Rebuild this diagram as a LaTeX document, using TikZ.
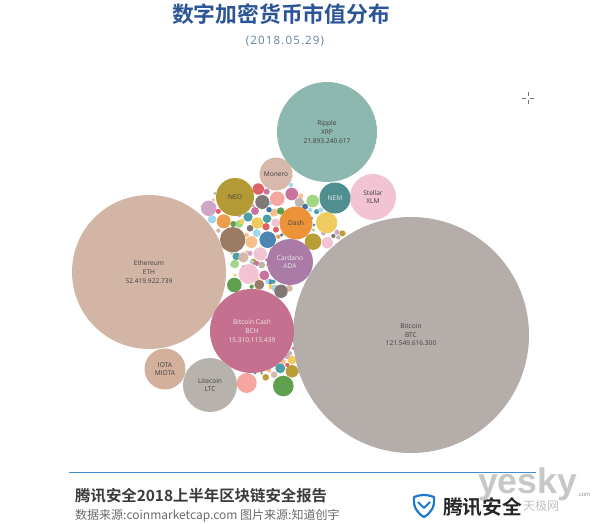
\documentclass[tikz,border=0pt]{standalone}
\usepackage{fontspec}
\setmainfont{Open Sans}
\newfontfamily\cjk{Noto Sans CJK SC}
\newfontfamily\cjkb{Noto Sans CJK SC Bold}
\newfontfamily\datef[LetterSpace=10]{Open Sans}
\newfontfamily\wm{Liberation Sans}
\definecolor{ctitle}{HTML}{2B5596}
\definecolor{cdate}{HTML}{5F7FA6}
\definecolor{cline}{HTML}{3F8FD8}
\definecolor{cfoot}{HTML}{3A3A3A}
\definecolor{csrc}{HTML}{6A6A6A}
\definecolor{cxrp}{HTML}{8DB8B0}
\definecolor{ceth}{HTML}{D3B5A5}
\definecolor{cbtc}{HTML}{B5ADA9}
\definecolor{cbch}{HTML}{C6708F}
\definecolor{cltc}{HTML}{B8B2AC}
\definecolor{ciota}{HTML}{D2B09C}
\definecolor{cxlm}{HTML}{F2C3D2}
\definecolor{cnem}{HTML}{4F8F8F}
\definecolor{cxmr}{HTML}{D6B9AB}
\definecolor{cneo}{HTML}{B39A34}
\definecolor{cdash}{HTML}{EC9339}
\definecolor{cada}{HTML}{A97BA6}
\definecolor{cshield}{HTML}{1E78D2}
\definecolor{Ared}{HTML}{DD6266}
\definecolor{Asal}{HTML}{F5A6A0}
\definecolor{Apk}{HTML}{C9729B}
\definecolor{Alp}{HTML}{F2C3D2}
\definecolor{Agd}{HTML}{7F7875}
\definecolor{Agl}{HTML}{BDB5B0}
\definecolor{Agr}{HTML}{A0D684}
\definecolor{Agn}{HTML}{5FA04E}
\definecolor{Aye}{HTML}{F0CB5E}
\definecolor{Aol}{HTML}{B79E35}
\definecolor{Ali}{HTML}{CFA6C8}
\definecolor{Ask}{HTML}{A6D6EA}
\definecolor{Aor}{HTML}{EE9D4C}
\definecolor{Abr}{HTML}{9A7B66}
\definecolor{Apc}{HTML}{F6C08E}
\definecolor{Abl}{HTML}{4E86B3}
\definecolor{Ate}{HTML}{4E9FA6}
\definecolor{Ata}{HTML}{D6B9AB}
\definecolor{Anv}{HTML}{3F74A8}
\tikzset{
  x=1pt,y=-1pt,
  bub/.style={circle,inner sep=0pt,outer sep=0pt,align=center,font=\fontsize{6.6}{8.6}\selectfont,text=black!75},
  lit/.style={bub,text=white!92!black},
  dot/.style={circle,inner sep=0pt,outer sep=0pt,draw=none},
  ttl/.style={inner sep=0pt,font=\cjkb\fontsize{21.8}{22}\selectfont,text=ctitle},
  tick/.style={draw=black!55,line width=.7pt},
}
\begin{document}
\begin{tikzpicture}
\useasboundingbox (0,0) rectangle (600,524);
\node[ttl] (title) at (281,14) {数字加密货币市值分布};
\node[inner sep=0pt,text=cdate,font=\datef\fontsize{11.5}{13}\selectfont] (date) at (285,41) {(2018.05.29)};
% tiny bubbles
\foreach \a/\b/\r/\c [count=\i] in {
75/130/4/Agl,70/150/4/Apc,85/184/6/Ared,38/170/5/Apc,303/105/5/Ask,332/138/6/Apc,345/170/7/Anv,320/175/4/Apc,360/180/5/Ask,380/185/6/Ate,392/180/6/Ask,365/205/4/Apk,372/225/4/Ate,370/240/4/Agr,352/258/4/Aye,400/250/5/Ali,430/258/5/Agd,441/247/6/Ali,457/250/7/Aol,445/262/5/Agl,465/250/3/Aor,130/222/7/Agn,148/222/9/Agr,85/242/5/Ata,100/250/5/Ask,165/180/5/Ata,155/215/6/Aye,170/255/5/Apc,265/260/5/Aor,275/255/4/Anv,258/239/7/Ared,280/250/4/Aye,139/319/9/Ate,160/322/12/Ata,135/375/4/Aye,190/335/7/Aol,200/340/6/Apk,215/345/8/Agl,180/310/6/Ali,170/305/4/Apc,240/395/6/Abl,250/395/5/Ate,243/410/6/Aye,232/395/5/Ask,255/415/8/Ask,298/415/8/Ata,185/410/5/Agn,200/385/5/Apc,185/335/5/Ask,230/330/4/Apk,232/345/4/Aye,160/390/4/Agr,230/125/7/Apk,148/195/5/Ali,175/195/4/Aor,240/160/5/Ask,318/255/4/Ate,245/300/5/Apc,100/290/4/Ali,300/200/4/Aor,215/175/4/Apc,190/168/4/Ali,310/140/4/Aye,125/345/4/Ali,125/310/3/Agl,160/350/4/Ate}
  \node[dot,fill=\c,minimum size=2.6*\r/3*1pt] (t\i) at ({190+\a/3},{150+\b/3}) {};
\foreach \a/\b/\r/\c [count=\i] in {
262/200/6/Ali,250/215/6/Apc,280/155/3/Ali,270/190/5/Agl,235/212/4/Ate,185/250/3/Agn,165/250/3/Ate,207/242/5/Apc,298/245/4/Aor,228/225/5/Ask,262/225/5/Ared,280/175/4/Apk}
  \node[dot,fill=\c,minimum size=2.6*\r/3*1pt] (u\i) at ({200+\a/3},{290+\b/3}) {};
% small bubbles
\foreach \a/\b/\r/\c [count=\i] in {
258.3/189/5.7/Ared,277.3/198.7/7.3/Asal,291.7/194/6.3/Apk,262.3/202/7/Agd,299.3/202.3/4.7/Agl,312.7/201/6.3/Agr,326.7/222.7/10.7/Aye,313/241.7/8.3/Aol,327.3/242.7/5.7/Alp,208.7/208.3/7.7/Ali,212/219.3/4.3/Ask,223.7/221.3/7/Aor,232.7/239.7/12.7/Abr,251.3/242/6/Apc,267.7/239.7/8.3/Abl,248/217/4.7/Ate,257.3/223/5.7/Aye,267/218.7/4.3/Ate,255/211/4/Apk,266/226.7/3.7/Ared,275.7/222.7/4.3/Alp,250/228.3/3.3/Agd,256.7/233/4/Ask,274/212.7/4/Apc,280.7/211/3.7/Agn,269/209.7/2.7/Anv,260.3/254/6.7/Alp,248.7/274/10/Alp,264.3/275.3/5/Apk,234.3/285/7.3/Agn,259.3/284.7/5/Abr,281/291.3/6.7/Agd,234.7/264/4.3/Agr,246.7/383/10/Asal,283.3/386/10.3/Agn,292/371.3/6.3/Aol,280.3/368.3/5/Ate,292/360/4.3/Aye,265.7/377.3/3.3/Aol,274/374.7/3.3/Ata}
  \node[dot,fill=\c,minimum size=2*\r*1pt] (s\i) at (\a,\b) {};
% labelled bubbles
\node[bub,fill=cxrp,minimum size=100pt] (xrp) at (327,132) {Ripple\\XRP\\21.893.240.617};
\node[bub,fill=ceth,minimum size=154pt] (eth) at (149,272) {Ethereum\\ETH\\52.419.922.739};
\node[bub,fill=cbtc,minimum size=236pt] (btc) at (411,335) {Bitcoin\\BTC\\121.549.616.300};
\node[lit,fill=cbch,minimum size=84pt] (bch) at (252,331) {Bitcoin Cash\\BCH\\15.310.115.439};
\node[bub,fill=cltc,minimum size=54pt] (ltc) at (210,385) {Litecoin\\LTC};
\node[bub,fill=ciota,minimum size=41pt] (iota) at (165,369) {IOTA\\MIOTA};
\node[bub,fill=cxlm,minimum size=46pt] (xlm) at (373,197) {Stellar\\XLM};
\node[lit,fill=cnem,minimum size=31pt] (nem) at (335,198) {NEM};
\node[bub,fill=cxmr,minimum size=33pt] (xmr) at (276,174) {Monero};
\node[bub,fill=cneo,minimum size=38pt] (neo) at (235,197) {NEO};
\node[bub,fill=cdash,minimum size=33pt] (dash) at (296,223) {Dash};
\node[lit,fill=cada,minimum size=46pt] (ada) at (290,262) {Cardano\\ADA};
% cursor mark
\coordinate (c) at (528,98);
\draw[tick] ([xshift=-6pt]c) -- ([xshift=-2pt]c) ([xshift=2pt]c) -- ([xshift=6pt]c) ([yshift=-6pt]c) -- ([yshift=-2pt]c) ([yshift=2pt]c) -- ([yshift=6pt]c);
% footer
\coordinate (la) at (69,472.5);
\coordinate (lb) at (536,472.5);
\draw[cline,line width=1pt] (la) -- (lb);
\node[anchor=west,inner sep=0pt,text=cfoot,font=\cjkb\fontsize{15.4}{15.4}\selectfont] (rep) at (75,495.5) {腾讯安全2018上半年区块链安全报告};
\node[anchor=west,inner sep=0pt,text=csrc,font=\cjk\fontsize{12}{12}\selectfont] (src) at (75,516) {数据来源:coinmarketcap.com 图片来源:知道创宇};
\draw[cshield,line width=2.2pt,line join=round] (414,497) .. controls (419,495) and (424,495) .. (424,495) .. controls (424,495) and (429,495) .. (434,497) .. controls (435,507) and (431,513) .. (424,517) .. controls (417,513) and (413,507) .. (414,497) -- cycle;
\draw[cshield,line width=2pt,line join=round] (418,502) -- (424,508) -- (430,502);
\node[anchor=west,inner sep=0pt,text=black!85,font=\cjkb\fontsize{19.7}{20}\selectfont] (brand) at (443,507) {腾讯安全};
\node[anchor=base west,inner sep=0pt,text=black!22,font=\wm\bfseries\fontsize{35.6}{36}\selectfont] (yesky) at (478,493) {yesky};
\node[anchor=west,inner sep=0pt,text=black!40,font=\wm\fontsize{6}{7}\selectfont] (com) at (577,495) {.com};
\node[anchor=west,inner sep=0pt,text=black!25,font=\cjk\fontsize{12}{12}\selectfont] (tj) at (523,505.5) {天极网};
\end{tikzpicture}
\end{document}
